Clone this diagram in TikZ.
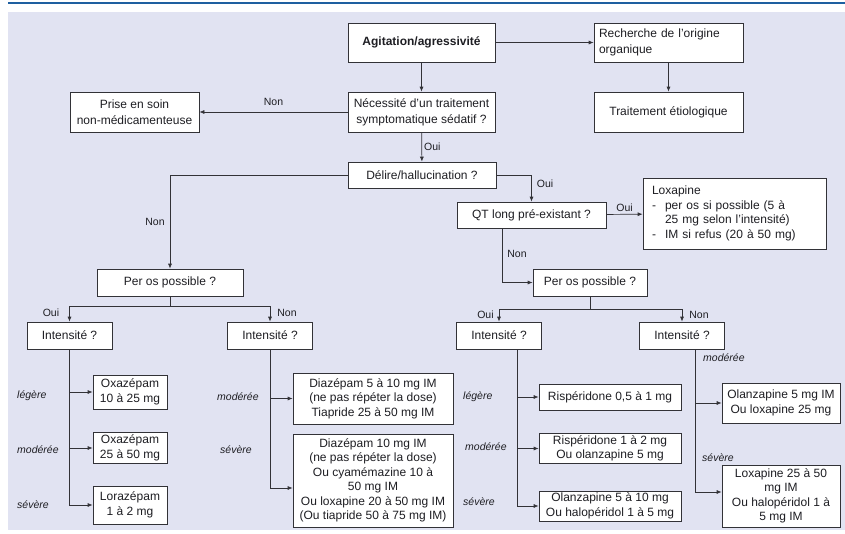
\documentclass[tikz,border=0pt]{standalone}
\usepackage{fontspec}
\setmainfont{Liberation Sans}
\usetikzlibrary{arrows.meta}

\definecolor{bgcol}{RGB}{225,227,242}
\definecolor{linecol}{RGB}{50,50,55}
\definecolor{txtcol}{RGB}{30,30,35}
\definecolor{topblue}{RGB}{30,95,160}

\tikzset{
  box/.style={draw=linecol, fill=white, line width=0.7pt, text=txtcol, align=center, inner sep=2pt, font=\fontsize{12}{14.5}\selectfont},
  topbox/.style={box, font=\fontsize{12}{16}\selectfont},
  arr/.style={-{Latex[length=5pt,width=4pt]}, line width=0.7pt, draw=linecol},
  ln/.style={line width=0.7pt, draw=linecol},
  lbl/.style={text=txtcol, font=\fontsize{10.5}{12}\selectfont, inner sep=2pt},
  grade/.style={text=txtcol, font=\fontsize{10.5}{12}\selectfont\itshape, anchor=west, inner sep=0pt},
}

\begin{document}
\begin{tikzpicture}[x=1pt,y=-1pt]
    \useasboundingbox (0,0) rectangle (845,533);
    % Background and top rule
    \fill[white] (0,0) rectangle (845,533);
    \fill[bgcol] (8,12) rectangle (845,530);
    \draw[topblue, line width=2pt] (8,3) -- (845,3);

    % Top of the chart
    \node[topbox, minimum width=147pt, minimum height=39pt, font=\fontsize{12}{16}\selectfont\bfseries] (agit) at (421.5,42.5) {Agitation/agressivité};
    \node[topbox, minimum width=149pt, minimum height=39pt, align=left, text width=139pt] (rech) at (668.5,42.5) {Recherche de l'origine\\organique};
    \node[topbox, minimum width=149pt, minimum height=40pt] (etio) at (668.5,112) {Traitement étiologique};
    \node[topbox, minimum width=147pt, minimum height=40pt] (necess) at (421.5,112) {Nécessité d'un traitement\\symptomatique sédatif ?};
    \node[topbox, minimum width=129pt, minimum height=40pt] (prise) at (134.5,112) {Prise en soin\\non-médicamenteuse};
    \node[topbox, minimum width=148pt, minimum height=26pt] (delire) at (422,175) {Délire/hallucination ?};
    \node[box, minimum width=149pt, minimum height=26pt] (qt) at (531.5,215) {QT long pré-existant ?};
    \node[box, minimum width=183pt, minimum height=71pt, align=left, text width=165pt] (loxa) at (734.5,213.5) {Loxapine\\\makebox[13pt][l]{-}per os si possible (5 à\\\hspace*{13pt}25 mg selon l'intensité)\\\makebox[13pt][l]{-}IM si refus (20 à 50 mg)};
    \node[box, minimum width=146pt, minimum height=27pt] (peros1) at (170,282.5) {Per os possible ?};
    \node[box, minimum width=114pt, minimum height=27pt] (peros2) at (590,282.5) {Per os possible ?};

    % Intensity questions
    \foreach \n/\x in {int1a/69.5, int1b/270, int2a/499, int2b/682} {
      \node[box, minimum width=85pt, minimum height=27pt] (\n) at (\x,335.5) {Intensité ?};
    }

    % Treatments
    \node[box, minimum width=74pt, minimum height=34pt] (oxa1) at (130,392) {Oxazépam\\10 à 25 mg};
    \node[box, minimum width=74pt, minimum height=31pt] (oxa2) at (130,448) {Oxazépam\\25 à 50 mg};
    \node[box, minimum width=74pt, minimum height=38pt] (lora) at (130,505) {Lorazépam\\1 à 2 mg};
    \node[box, minimum width=160pt, minimum height=51pt] (diaz5) at (373,398.5) {Diazépam 5 à 10 mg IM\\(ne pas répéter la dose)\\Tiapride 25 à 50 mg IM};
    \node[box, minimum width=160pt, minimum height=93pt] (diaz10) at (373,480.5) {Diazépam 10 mg IM\\(ne pas répéter la dose)\\Ou cyamémazine 10 à\\50 mg IM\\Ou loxapine 20 à 50 mg IM\\(Ou tiapride 50 à 75 mg IM)};
    \node[box, minimum width=142pt, minimum height=26pt] (risp1) at (610,397) {Rispéridone 0,5 à 1 mg};
    \node[box, minimum width=142pt, minimum height=29pt] (risp2) at (610,448.5) {Rispéridone 1 à 2 mg\\Ou olanzapine 5 mg};
    \node[box, minimum width=142pt, minimum height=28pt] (olan1) at (610,506) {Olanzapine 5 à 10 mg\\Ou halopéridol 1 à 5 mg};
    \node[box, minimum width=118pt, minimum height=40pt] (olan2) at (781,403) {Olanzapine 5 mg IM\\Ou loxapine 25 mg};
    \node[box, minimum width=118pt, minimum height=62pt] (loxa2) at (781,496) {Loxapine 25 à 50\\mg IM\\Ou halopéridol 1 à\\5 mg IM};

    % Connectors
    \draw[arr] (agit) -- (rech);
    \draw[arr] (agit) -- (necess);
    \draw[arr] (rech) -- (etio);
    \draw[arr] (necess) -- node[lbl, above=4pt] (nonprise) {Non} (prise);
    \draw[arr] (necess) -- node[lbl, right] (ouidel) {Oui} (delire);
    \draw[arr] (delire.west) -| node[lbl, pos=0.75, left=3pt] (nondel) {Non} (peros1.north);
    \draw[arr] (delire.east) -| node[lbl, pos=0.66, right=3pt] (ouiqt) {Oui} (qt.north);
    \draw[arr] (qt) -- node[lbl, above] (ouiloxa) {Oui} (loxa);
    \draw[arr] ([xshift=-29.5pt]qt.south) |- node[lbl, pos=0.24, right=3pt] (nonqt) {Non} (peros2.west);

    % Per os splits
    \coordinate (split1) at (170,306);
    \coordinate (split2) at (590,309);
    \draw[ln] (peros1) -- (split1);
    \draw[arr] (split1) -| node[lbl, pos=0.72, left=8pt] (oui1) {Oui} (int1a);
    \draw[arr] (split1) -| node[lbl, pos=0.72, right=5pt] (non1) {Non} (int1b);
    \draw[ln] (peros2) -- (split2);
    \draw[arr] (split2) -| node[lbl, pos=0.72, left=3pt] (oui2) {Oui} (int2a);
    \draw[arr] (split2) -| node[lbl, pos=0.72, right=5pt] (non2) {Non} (int2b);

    % Intensity branches
    \foreach \t in {oxa1, oxa2, lora} {
      \draw[arr] (int1a.south) |- (\t.west);
    }
    \draw[arr] (int1b.south) |- (diaz5.west);
    \draw[arr] (int1b.south) |- ([yshift=-7.5pt]diaz10.west);
    \foreach \t in {risp1, risp2, olan1} {
      \draw[arr] ([xshift=18pt]int2a.south) |- (\t.west);
    }
    \draw[arr] ([xshift=13pt]int2b.south) |- (olan2.west);
    \draw[arr] ([xshift=13pt]int2b.south) |- ([yshift=4pt]loxa2.west);

    % Intensity labels
    \foreach \x/\y/\g [count=\i] in {17/396/légère, 17/450/modérée, 17/505/sévère, 217/397/modérée, 220/450/sévère, 463/397/légère, 465/447/modérée, 463/502/sévère, 703/358/modérée, 702/458/sévère} {
      \node[grade] (grade\i) at (\x,\y) {\g};
    }
\end{tikzpicture}
\end{document}
